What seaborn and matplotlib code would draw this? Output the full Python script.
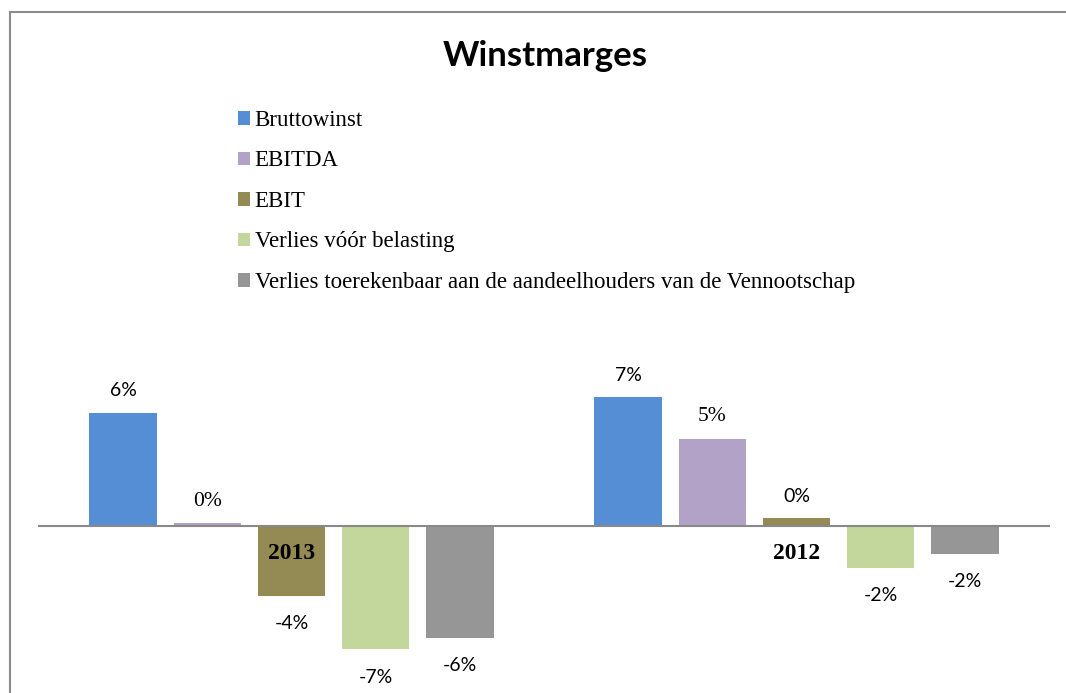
import numpy as np
import pandas as pd
import matplotlib.pyplot as plt
import seaborn as sns
from matplotlib.lines import Line2D

# marges in %
jaren = ["2013", "2012"]
reeksen = ["Bruttowinst", "EBITDA", "EBIT", "Verlies vóór belasting",
           "Verlies toerekenbaar aan de aandeelhouders van de Vennootschap"]
bruttowinst = [6.28, 7.13]
ebitda = [0.13, 4.82]
ebit = [-3.89, 0.41]
verlies_voor_belasting = [-6.87, -2.33]
verlies_aandeelhouders = [-6.22, -1.58]
kleuren = ["#558ED5", "#B3A2C7", "#948A54", "#C3D69B", "#969696"]

waarden = [bruttowinst, ebitda, ebit, verlies_voor_belasting, verlies_aandeelhouders]
rijen = []
for reeks, vals in zip(reeksen, waarden):
    for jaar, v in zip(jaren, vals):
        rijen.append({"Jaar": jaar, "Reeks": reeks, "Marge": v})
df = pd.DataFrame(rijen)

sns.set_theme(style="white")
plt.rcParams['font.family'] = ['Lato', 'DejaVu Sans']
plt.rcParams['text.color'] = 'black'

fig = plt.figure(figsize=(10.66, 6.93), dpi=100)
ax = fig.add_axes([39 / 1066, 0, 1010 / 1066, 393 / 693])

sns.barplot(data=df, x="Jaar", y="Marge", hue="Reeks", order=jaren, hue_order=reeksen,
            palette=kleuren, saturation=1, width=0.834, gap=0.2, linewidth=0, ax=ax)

ax.set_xlim(-0.5, 1.5)
ax.set_ylim(-9.3, 12.55)
for s in ["left", "top", "right"]:
    ax.spines[s].set_visible(False)
ax.spines["bottom"].set_position(("data", 0))
ax.spines["bottom"].set_color("#898989")
ax.spines["bottom"].set_linewidth(1.5)
ax.spines["bottom"].set_zorder(5)
ax.set_yticks([])
ax.set_xticks([])
ax.set_xlabel("")
ax.set_ylabel("")

# jaartallen onder de as, boven de balken
for i, jaar in enumerate(jaren):
    ax.annotate(jaar, (i, 0), xytext=(0, -20), textcoords="offset points",
                ha="center", va="center", fontsize=17, fontweight="bold",
                family="Liberation Serif", zorder=10)

# data labels (EBITDA-labels staan in een schreeflettertype)
for reeks, cont in zip(reeksen, ax.containers):
    fam = "Liberation Serif" if reeks == "EBITDA" else "Lato"
    fs = 15.5 if reeks == "EBITDA" else 14
    for bar, v in zip(cont.patches, cont.datavalues):
        x = bar.get_x() + bar.get_width() / 2
        off = 16 if v >= 0 else -20
        ax.annotate(f"{v:.0f}%", (x, v), xytext=(0, off), textcoords="offset points",
                    ha="center", va="center", fontsize=fs, family=fam)

sns.move_legend(ax, "upper left", bbox_to_anchor=(238 / 1066, 1 - 110 / 693),
                bbox_transform=fig.transFigure, frameon=False, title=None,
                handlelength=0.53, handleheight=0.53, handletextpad=0.2,
                labelspacing=0.85, borderpad=0, borderaxespad=0,
                prop=dict(family="Liberation Serif", size=16.5))

fig.text(545 / 1066, 1 - 56 / 693, "Winstmarges", ha="center", va="center",
         fontsize=25, fontweight="bold", family="Lato")

# kader rond de grafiek
fig.add_artist(Line2D([10 / 1066, 10 / 1066], [0, 1 - 12 / 693], transform=fig.transFigure,
                      color="#8c8c8c", lw=1.5))
fig.add_artist(Line2D([10 / 1066, 1], [1 - 12 / 693, 1 - 12 / 693], transform=fig.transFigure,
                      color="#8c8c8c", lw=1.5))

fig.savefig("out.png", dpi=100)
